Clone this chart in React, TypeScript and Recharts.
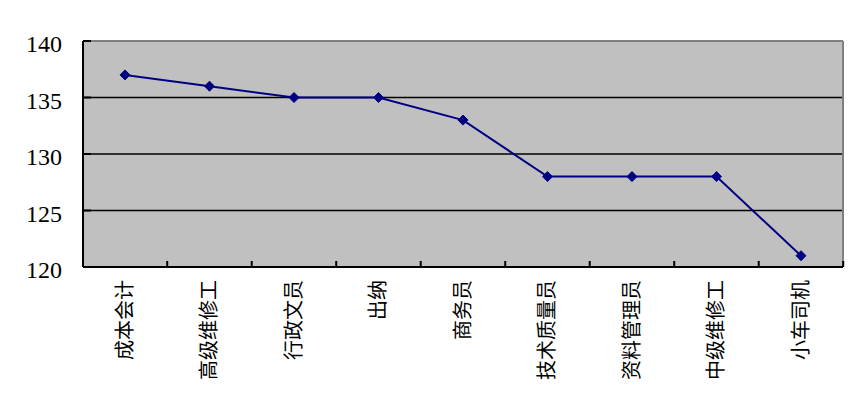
import React from 'react';
import { LineChart, Line, XAxis, YAxis, CartesianGrid } from 'recharts';

const JOBS = ['成本会计', '高级维修工', '行政文员', '出纳', '商务员', '技术质量员', '资料管理员', '中级维修工', '小车司机'];
const VALUES = [137, 136, 135, 135, 133, 128, 128, 128, 121];
const Y_TICKS = [120, 125, 130, 135, 140];
const GRID_VALUES = [125, 130, 135];

const NAVY = '#000080';

const data = JOBS.map((job, i) => ({ job, value: VALUES[i] }));

// category label, read bottom to top, plus the short mark after each category
const renderJobTick = (props: any) => {
  const { x, y, payload, width } = props;
  const step = (width || 760) / JOBS.length;
  const axisY = y - 13;
  return (
    <g>
      <line x1={x + step / 2} x2={x + step / 2} y1={axisY} y2={axisY - 6} stroke="#000" strokeWidth={2} />
      <text
        x={x - 2}
        y={y}
        transform={`rotate(-90 ${x - 2} ${y})`}
        textAnchor="end"
        dominantBaseline="central"
        style={{ fontFamily: '"Noto Sans CJK SC", sans-serif', fontSize: 20 }}
        fill="#000"
      >
        {payload.value}
      </text>
    </g>
  );
};

const renderValueTick = (props: any) => {
  const { x, y, payload } = props;
  return (
    <text
      x={x}
      y={y + 3}
      textAnchor="end"
      dominantBaseline="central"
      style={{ fontFamily: '"Liberation Serif", serif', fontSize: 24 }}
      fill="#000"
    >
      {payload.value}
    </text>
  );
};

const Diamond = (props: any) => {
  const { cx, cy } = props;
  if (cx == null || cy == null) return null;
  const r = 5;
  return (
    <polygon
      points={`${cx},${cy - r} ${cx + r},${cy} ${cx},${cy + r} ${cx - r},${cy}`}
      fill={NAVY}
      stroke={NAVY}
      strokeWidth={1}
    />
  );
};

export default function App() {
  return (
    <div style={{ position: 'absolute', left: 0, top: 0, width: 867, height: 406, background: '#fff' }}>
      <LineChart
        width={867}
        height={406}
        data={data}
        margin={{ top: 40, right: 23, bottom: 0, left: 0 }}
      >
        <CartesianGrid
          vertical={false}
          horizontalValues={GRID_VALUES}
          stroke="#000"
          strokeWidth={1.5}
          fill="#C0C0C0"
          fillOpacity={1}
        />
        <XAxis
          xAxisId="top"
          orientation="top"
          type="number"
          domain={[0, 9]}
          height={1}
          tick={false}
          tickLine={false}
          axisLine={{ stroke: '#808080', strokeWidth: 2 }}
        />
        <YAxis
          yAxisId="right"
          orientation="right"
          type="number"
          domain={[120, 140]}
          width={1}
          tick={false}
          tickLine={false}
          axisLine={{ stroke: '#808080', strokeWidth: 2 }}
        />
        <XAxis
          dataKey="job"
          type="category"
          height={139}
          interval={0}
          padding={{ left: 42, right: 42 }}
          tick={renderJobTick}
          tickLine={false}
          tickSize={0}
          tickMargin={13}
          axisLine={{ stroke: '#000', strokeWidth: 2 }}
        />
        <YAxis
          type="number"
          domain={[120, 140]}
          ticks={Y_TICKS}
          interval={0}
          width={83}
          tick={renderValueTick}
          tickSize={-8}
          tickMargin={29}
          tickLine={{ stroke: '#000', strokeWidth: 2 }}
          axisLine={{ stroke: '#000', strokeWidth: 2 }}
        />
        <Line
          dataKey="value"
          stroke={NAVY}
          strokeWidth={2}
          dot={<Diamond />}
          activeDot={false}
          isAnimationActive={false}
        />
      </LineChart>
    </div>
  );
}
